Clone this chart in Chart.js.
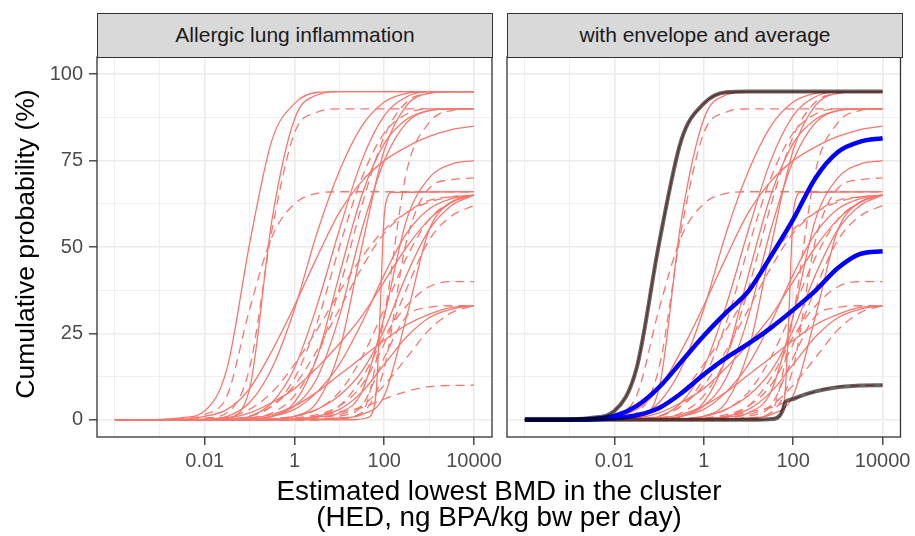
<!DOCTYPE html>
<html>
<head>
<meta charset="utf-8">
<script src="https://cdn.jsdelivr.net/npm/chart.js@4/dist/chart.umd.min.js"></script>
<style>
  body { margin: 0; background: #fff; width: 915px; height: 536px; overflow: hidden; position: relative;
         font-family: "Liberation Sans", Arial, sans-serif; }
  canvas { position: absolute; left: 0; top: 0; }
  .strip { position: absolute; top: 13px; height: 45px; width: 396px; box-sizing: border-box;
           background: #d9d9d9; border: 1.3px solid #333; color: #1a1a1a; font-size: 21px;
           line-height: 42px; text-align: center; }
  .xtitle { position: absolute; left: 99px; width: 800px; top: 478px; text-align: center;
            font-size: 27.8px; line-height: 26px; color: #000; }
  .ytitle { position: absolute; left: -175px; width: 400px; top: 230px; height: 28px; line-height: 28px;
            text-align: center; font-size: 26.5px; color: #000; transform: rotate(-90deg); }
</style>
</head>
<body>
<canvas id="left" width="915" height="536"></canvas>
<canvas id="right" width="915" height="536"></canvas>
<div class="strip" style="left:97px">Allergic lung inflammation</div>
<div class="strip" style="left:507px">with envelope and average</div>
<div class="xtitle">Estimated lowest BMD in the cluster<br>(HED, ng BPA/kg bw per day)</div>
<div class="ytitle">Cumulative probability (%)</div>
<script>
// dose grid (half decades) shared by most curves
const doses = [0.0001, 0.000316, 0.001, 0.00316, 0.01, 0.0316, 0.1, 0.316, 1, 3.16, 10, 31.6, 100, 316, 1000, 3162, 10000];

const solidCurves = [
  [0, 0, 0.1, 0.6, 2.5, 15, 51, 81, 91.5, 94.8, 95, 95, 95, 95, 95, 95, 95],
  [0, 0, 0, 0, 0, 0.5, 9, 58, 87, 94, 95, 95, 95, 95, 95, 95, 95],
  [0, 0, 0, 0, 0.2, 1, 5, 15, 32, 54, 72, 85, 92, 94.5, 95, 95, 95],
  [0, 0, 0, 0, 0, 0.2, 1, 5, 15, 33, 55, 75, 88, 93.5, 95, 95, 95],
  [0, 0, 0, 0, 0, 0, 0, 0.2, 1, 5, 20, 50, 78, 91, 94.5, 95, 95],
  [0, 0, 0, 0, 0, 0, 0.2, 1, 5, 18, 42, 65, 80, 87, 89.5, 90, 90],
  [0, 0, 0, 0, 0, 0, 0, 1, 4, 12, 30, 55, 75, 86, 89.5, 90, 90],
  [0, 0, 0, 0.2, 1, 3, 9, 20, 33, 47, 60, 69, 75, 79, 82, 84, 85],
  [0, 0, 0, 0, 0, 0, 0, 0, 0.2, 0.8, 2, 8, 30, 58, 70, 74, 75],
  [0, 0, 0, 0, 0, 0, 0, 0, 0, 0.2, 0.5, 1.5, 7, 30, 55, 63, 65],
  [0, 0, 0, 0, 0, 0, 0.2, 1, 3, 8, 16, 28, 42, 54, 61, 64, 65],
  [0, 0, 0, 0, 0.1, 0.5, 2, 5, 9, 15, 22, 30, 40, 50, 58, 63, 65],
  [0, 0, 0, 0, 0, 0, 0, 0.2, 1, 3, 7, 14, 26, 42, 55, 62, 65],
  [0, 0, 0, 0, 0, 0, 0.5, 1.5, 4, 8, 13, 18, 23, 27.5, 30.5, 32.5, 33],
  [0, 0, 0, 0, 0, 0, 0, 0, 0.3, 1, 3, 8, 16, 24, 29.5, 32, 33]
];

const dashedCurves = [
  [0, 0, 0, 0, 0.5, 2, 15, 55, 83, 89, 90, 90, 90, 90, 90, 90, 90],
  [0, 0, 0, 0.3, 1.5, 7, 32, 53, 62.5, 65.5, 66, 66, 66, 66, 66, 66, 66],
  [0, 0, 0, 0, 0, 0.2, 1, 4, 12, 28, 50, 70, 83, 88.5, 90, 90, 90],
  [0, 0, 0, 0, 0, 0, 0, 0, 0, 0, 0.3, 2, 30, 72, 86, 89.5, 90],
  [0, 0, 0, 0, 0, 0, 0, 0, 0, 0, 0.5, 2, 15, 52, 67, 69.5, 70],
  [0, 0, 0, 0, 0, 0.2, 1, 4, 10, 20, 32, 44, 54, 60, 63.5, 64.5, 65],
  [0, 0, 0, 0, 0, 0, 0, 0.3, 1, 3, 8, 18, 32, 47, 58, 63, 65],
  [0, 0, 0, 0, 0, 0, 0, 0, 0.5, 1.5, 4, 10, 22, 38, 52, 59, 62],
  [0, 0, 0, 0, 0, 0, 0, 0, 0, 1, 4, 12, 24, 33, 38.5, 40, 40],
  [0, 0, 0, 0, 0, 0, 0, 0, 0, 0, 1, 4, 18, 30, 32.5, 33, 33],
  [0, 0, 0, 0, 0, 0, 0, 0, 0, 0.5, 1.5, 4, 10, 18, 26, 31, 33],
  [0, 0, 0, 0, 0, 0, 0.1, 0.2, 0.4, 1, 2.2, 3.5, 6, 8.2, 9.6, 9.9, 10],
  [0, 0, 0, 0, 0, 0.1, 0.5, 2, 7, 18, 38, 62, 82, 92, 94.5, 95, 95],
  [0, 0, 0, 0, 0.2, 0.8, 3, 8, 16, 26, 37, 47, 55, 60, 63, 64.5, 65]
];

// the steep solid curve near 70
const stepDoses = [0.0001, 20, 40, 57, 67, 80, 98, 115, 150, 10000];
const stepCurve = [0, 0, 0.5, 2.8, 9, 30, 57.8, 64, 65.8, 66];

// right panel extras
const upperEnvelope = [0, 0, 0.1, 0.6, 2.5, 15, 51, 81, 91.5, 94.8, 95, 95, 95, 95, 95, 95, 95];
const lowerEnvDoses = [0.0001, 10, 35, 50, 59, 65, 69, 100, 135, 316, 760, 3162, 10000];
const lowerEnvelope = [0, 0, 0.2, 1.2, 2.9, 4.6, 5.3, 6, 6.7, 8.2, 9.2, 9.9, 10];
const averageHigh = [0, 0, 0, 0.2, 1.1, 4, 9.4, 16.8, 24.3, 31, 37.2, 47.3, 58, 70, 77.5, 80.5, 81.5];
const averageLow = [0, 0, 0, 0.1, 0.4, 1.3, 3.4, 7.7, 13.1, 17.9, 22, 26.6, 31.8, 37.4, 43.9, 48, 48.8];

// axes
const xGrid = [0.0001, 0.001, 0.01, 0.1, 1, 10, 100, 1000, 10000];
const xTickLabels = ['', '', '0.01', '', '1', '', '100', '', '10000'];
const yGrid = [0, 12.5, 25, 37.5, 50, 62.5, 75, 87.5, 100];

Chart.defaults.font.family = '"Liberation Sans", Arial, sans-serif';

const pts = (xs, ys) => xs.map((x, i) => ({ x: x, y: ys[i] }));

function line(xs, ys, color, width, dash, order) {
  return {
    data: pts(xs, ys),
    borderColor: color,
    borderWidth: width,
    borderDash: dash,
    pointRadius: 0,
    cubicInterpolationMode: 'monotone',
    order: order
  };
}

function redCurves() {
  const sets = [];
  solidCurves.forEach(c => sets.push(line(doses, c, '#F8766D', 1.3, [], 3)));
  dashedCurves.forEach(c => sets.push(line(doses, c, '#F8766D', 1.3, [9, 6], 3)));
  sets.push(line(stepDoses, stepCurve, '#F8766D', 1.3, [], 3));
  return sets;
}

const panelBorder = {
  id: 'panelBorder',
  afterDraw(chart) {
    const a = chart.chartArea;
    const ctx = chart.ctx;
    ctx.save();
    ctx.strokeStyle = '#333333';
    ctx.lineWidth = 1.3;
    ctx.strokeRect(a.left, a.top, a.right - a.left, a.bottom - a.top);
    ctx.restore();
  }
};

function options(isLeft) {
  return {
    responsive: false,
    animation: false,
    events: [],
    layout: { padding: isLeft ? { left: 0, top: 57, right: 423, bottom: 54 }
                              : { left: 507, top: 57, right: 13, bottom: 54 } },
    plugins: { legend: { display: false }, tooltip: { enabled: false } },
    scales: {
      x: {
        type: 'logarithmic',
        min: Math.pow(10, -4.4),
        max: Math.pow(10, 4.4),
        bounds: 'data',
        afterBuildTicks: s => { s.ticks = xGrid.map(v => ({ value: v })); },
        afterFit: s => { s.height = 45; },
        ticks: {
          autoSkip: false, maxRotation: 0, padding: 4,
          color: '#4d4d4d', font: { size: 20 },
          callback: (v, i) => xTickLabels[i]
        },
        grid: {
          color: '#ebebeb',
          lineWidth: c => (xTickLabels[c.index] ? 1.6 : 0.8),
          tickLength: 8, tickWidth: 1.3,
          tickColor: c => (xTickLabels[c.index] ? '#333333' : 'rgba(0,0,0,0)')
        },
        border: { display: false }
      },
      y: {
        type: 'linear',
        min: -5, max: 105,
        bounds: 'data',
        afterBuildTicks: s => { s.ticks = yGrid.map(v => ({ value: v })); },
        afterFit: s => { s.width = isLeft ? 97 : 0; },
        ticks: {
          display: isLeft, autoSkip: false, padding: 6,
          color: '#4d4d4d', font: { size: 20 },
          callback: v => (v % 25 === 0 ? v : '')
        },
        grid: {
          color: '#ebebeb',
          lineWidth: c => (c.tick && c.tick.value % 25 === 0 ? 1.6 : 0.8),
          drawTicks: isLeft,
          tickLength: 8, tickWidth: 1.3,
          tickColor: c => (c.tick && c.tick.value % 25 === 0 ? '#333333' : 'rgba(0,0,0,0)')
        },
        border: { display: false }
      }
    }
  };
}

new Chart(document.getElementById('left'), {
  type: 'line',
  data: { datasets: redCurves() },
  options: options(true),
  plugins: [panelBorder]
});

const rightSets = redCurves();
rightSets.push(line(doses, averageHigh, '#0000FF', 4.5, [], 1));
rightSets.push(line(doses, averageLow, '#0000FF', 4.5, [], 1));
rightSets.push(line(doses, upperEnvelope, 'rgba(0,0,0,0.6)', 4, [], 0));
rightSets.push(line(lowerEnvDoses, lowerEnvelope, 'rgba(0,0,0,0.6)', 4, [], 0));

new Chart(document.getElementById('right'), {
  type: 'line',
  data: { datasets: rightSets },
  options: options(false),
  plugins: [panelBorder]
});
</script>
</body>
</html>
